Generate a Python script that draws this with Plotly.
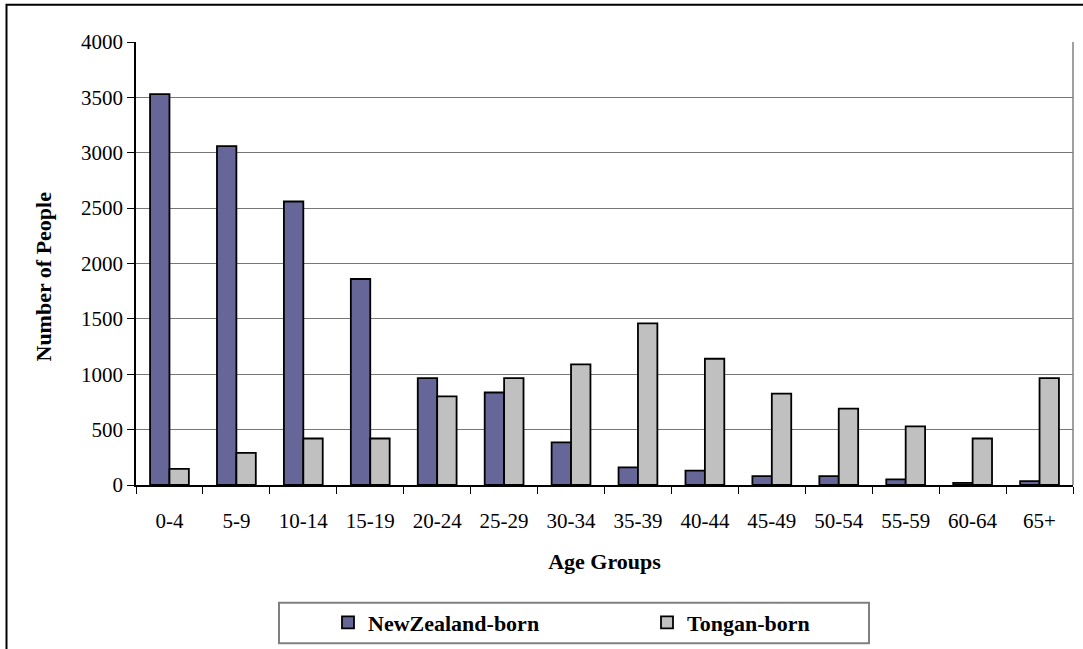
import plotly.graph_objects as go

# Age groups and counts by birthplace
age_groups = ["0-4", "5-9", "10-14", "15-19", "20-24", "25-29", "30-34",
              "35-39", "40-44", "45-49", "50-54", "55-59", "60-64", "65+"]
nz_born = [3530, 3060, 2560, 1860, 965, 835, 385, 160, 130, 80, 80, 50, 20, 35]
tongan_born = [145, 290, 420, 420, 800, 965, 1090, 1460, 1140, 825, 690, 530, 420, 965]
y_ticks = [0, 500, 1000, 1500, 2000, 2500, 3000, 3500, 4000]

W, H = 1083, 649
L, R, T, B = 136, 10, 42, 164
PW, PH = W - L - R, H - T - B


def px_x(px):
    return (px - L) / PW


def px_y(py):
    return (H - B - py) / PH


SERIF = "Liberation Serif"

fig = go.Figure()
fig.add_trace(go.Bar(
    x=age_groups, y=nz_born, name="NewZealand-born",
    marker=dict(color="#666699", line=dict(color="black", width=1.8)),
))
fig.add_trace(go.Bar(
    x=age_groups, y=tongan_born, name="Tongan-born",
    marker=dict(color="#C0C0C0", line=dict(color="black", width=1.8)),
))

fig.update_layout(
    width=W, height=H,
    margin=dict(l=L, r=R, t=T, b=B, autoexpand=False),
    paper_bgcolor="white", plot_bgcolor="white",
    barmode="group", bargap=0.42, bargroupgap=0,
    font=dict(family=SERIF, color="black", size=21),
    showlegend=True,
    legend=dict(
        orientation="h", x=px_x(328), xanchor="left",
        y=px_y(622.5), yanchor="middle",
        bgcolor="rgba(0,0,0,0)", borderwidth=0,
        entrywidth=274, entrywidthmode="pixels",
        font=dict(family=SERIF, size=22, color="black", weight="bold"),
    ),
    xaxis=dict(
        type="category", showgrid=False,
        showline=True, linecolor="black", linewidth=1.5,
        ticks="outside", tickson="boundaries", ticklen=7,
        tickcolor="black", tickwidth=1, ticklabelstandoff=16,
        tickfont=dict(family=SERIF, size=21, color="black"),
        title=dict(text="Age Groups", standoff=22,
                   font=dict(family=SERIF, size=22, color="black", weight="bold")),
    ),
    yaxis=dict(
        range=[0, 4000], tickvals=y_ticks,
        showgrid=True, gridcolor="#777777", gridwidth=1.4,
        showline=True, linecolor="black", linewidth=1.5,
        ticks="outside", ticklen=7, tickcolor="black", tickwidth=1,
        tickfont=dict(family=SERIF, size=21, color="black"),
        zeroline=False,
    ),
    annotations=[dict(
        text="Number of People", textangle=-90,
        xref="paper", yref="paper", x=px_x(43), y=px_y(276.5),
        xanchor="center", yanchor="middle", showarrow=False,
        font=dict(family=SERIF, size=22, color="black", weight="bold"),
    )],
    shapes=[
        # right edge of the plot area
        dict(type="line", xref="paper", yref="paper", x0=1, x1=1, y0=0, y1=1,
             line=dict(color="#808080", width=1.5)),
        # legend frame
        dict(type="rect", xref="paper", yref="paper",
             x0=px_x(279), x1=px_x(869), y0=px_y(643.3), y1=px_y(602.7),
             line=dict(color="#808080", width=2), layer="below"),
        # outer chart frame
        dict(type="rect", xref="paper", yref="paper",
             x0=px_x(6.5), x1=px_x(1120), y0=px_y(700), y1=px_y(4.7),
             line=dict(color="black", width=2)),
    ],
)

fig.write_html("out.html")
